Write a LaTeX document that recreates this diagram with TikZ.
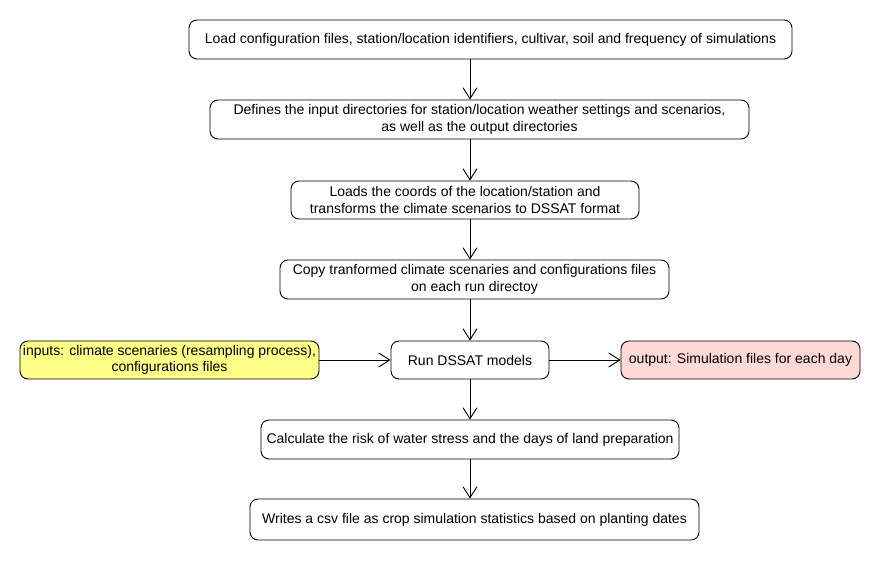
\documentclass[tikz,border=0pt]{standalone}
\usepackage{fontspec}
\setmainfont{Liberation Sans}
\usetikzlibrary{arrows.meta}
\definecolor{inyellow}{RGB}{255,255,136}
\definecolor{outpink}{RGB}{255,216,216}
\tikzset{
  stepbox/.style={draw=black, line width=0.9pt, rounded corners=8pt, fill=white, inner sep=0pt, align=center, font=\fontsize{14}{16.5}\selectfont},
  arr/.style={draw=black, line width=0.9pt, -{Straight Barb[length=11pt,width=14pt,line width=0.9pt]}}
}
\begin{document}
\begin{tikzpicture}[x=1pt,y=-1pt]
\useasboundingbox (0,0) rectangle (880,560);
\node[stepbox, minimum width=603pt, minimum height=39pt] (b1) at (490.5,39.5) {Load configuration files, station/location identifiers, cultivar, soil and frequency of simulations};
\node[stepbox, minimum width=539pt, minimum height=39pt] (b2) at (479.5,119.5) {Defines the input directories for station/location weather settings and scenarios,\\as well as the output directories};
\node[stepbox, minimum width=348pt, minimum height=38pt] (b3) at (465,200) {Loads the coords of the location/station and\\transforms the climate scenarios to DSSAT format};
\node[stepbox, minimum width=389pt, minimum height=39pt] (b4) at (474.5,279.5) {Copy tranformed climate scenaries and configurations files\\on each run directoy};
\node[stepbox, minimum width=158pt, minimum height=38pt] (run) at (470,360) {Run DSSAT models};
\node[stepbox, fill=inyellow, minimum width=299pt, minimum height=38pt] (in) at (169.5,360) {inputs: climate scenaries (resampling process),\\configurations files};
\node[stepbox, fill=outpink, minimum width=239pt, minimum height=38pt] (out) at (740.5,360) {output: Simulation files for each day};
\node[stepbox, minimum width=418pt, minimum height=39pt] (b6) at (470,439.5) {Calculate the risk of water stress and the days of land preparation};
\node[stepbox, minimum width=449pt, minimum height=41pt] (b7) at (474.5,519.5) {Writes a csv file as crop simulation statistics based on planting dates};
\coordinate (ax) at (470,0);
\draw[arr] (b1.south -| ax) -- (b2.north -| ax);
\draw[arr] (b2.south -| ax) -- (b3.north -| ax);
\draw[arr] (b3.south -| ax) -- (b4.north -| ax);
\draw[arr] (b4.south -| ax) -- (run.north -| ax);
\draw[arr] (run.south -| ax) -- (b6.north -| ax);
\draw[arr] (b6.south -| ax) -- (b7.north -| ax);
\draw[arr] (in.east) -- (run.west);
\draw[arr] (run.east) -- (out.west);
\end{tikzpicture}
\end{document}
